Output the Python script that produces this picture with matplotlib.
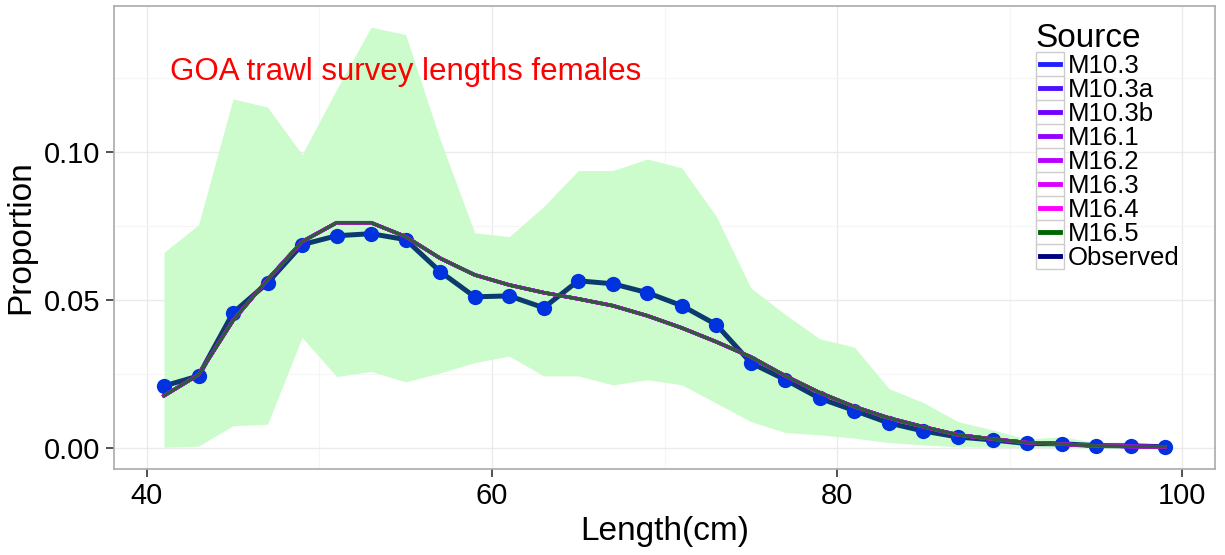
import matplotlib.pyplot as plt
from matplotlib.ticker import MultipleLocator
from matplotlib.legend_handler import HandlerLine2D
from matplotlib.patches import Rectangle
from matplotlib.lines import Line2D

plt.rcParams['font.family'] = ['Liberation Sans', 'DejaVu Sans']

# length bins (cm)
length = [41, 43, 45, 47, 49, 51, 53, 55, 57, 59, 61, 63, 65, 67, 69,
          71, 73, 75, 77, 79, 81, 83, 85, 87, 89, 91, 93, 95, 97, 99]

observed = [0.0209, 0.0243, 0.0456, 0.0557, 0.0686, 0.0716, 0.0723, 0.0703,
            0.0595, 0.0510, 0.0513, 0.0473, 0.0564, 0.0554, 0.0524, 0.0480,
            0.0416, 0.0287, 0.0230, 0.0167, 0.0126, 0.0084, 0.0057, 0.0037,
            0.0027, 0.0015, 0.0014, 0.0008, 0.0007, 0.0004]

# model fits (all sources nearly identical)
predicted = [0.0176, 0.0247, 0.0430, 0.0568, 0.0696, 0.0760, 0.0760, 0.0713,
             0.0640, 0.0584, 0.0550, 0.0524, 0.0503, 0.0480, 0.0446, 0.0405,
             0.0358, 0.0307, 0.0243, 0.0186, 0.0139, 0.0101, 0.0071, 0.0044,
             0.0030, 0.0018, 0.0013, 0.0007, 0.0005, 0.0004]

upper = [0.0660, 0.0753, 0.1178, 0.1150, 0.0990, 0.1210, 0.1420, 0.1395,
         0.1040, 0.0726, 0.0713, 0.0815, 0.0936, 0.0936, 0.0975, 0.0945,
         0.0781, 0.0540, 0.0450, 0.0368, 0.0340, 0.0200, 0.0153, 0.0089,
         0.0061, 0.0030, 0.0038, 0.0018, 0.0021, 0.0010]

lower = [0.0002, 0.0006, 0.0075, 0.0080, 0.0373, 0.0241, 0.0258, 0.0223,
         0.0253, 0.0288, 0.0310, 0.0243, 0.0243, 0.0213, 0.0230, 0.0213,
         0.0151, 0.0089, 0.0052, 0.0044, 0.0033, 0.0018, 0.0010, 0.0004,
         0.0002, 0.0001, 0.0001, 0.0000, 0.0000, 0.0000]

sources = ['M10.3', 'M10.3a', 'M10.3b', 'M16.1', 'M16.2', 'M16.3', 'M16.4', 'M16.5']
colors = ['#2020FF', '#4A10FF', '#7000FF', '#9500FF', '#B800FF', '#DC00FF', '#FF00FF', '#006400']


# ggplot-like legend key: grey bordered box with a short line
class KeyBox(HandlerLine2D):
    def create_artists(self, legend, orig, xd, yd, width, height, fontsize, trans):
        box = Rectangle((-xd, -yd - 2), width, height + 4, fc='white',
                        ec='#CCCCCC', lw=1.0, transform=trans)
        ln = Line2D([-xd + 3, -xd + width - 3], [-yd + height / 2] * 2,
                    color=orig.get_color(), lw=3.5, transform=trans)
        return [box, ln]


fig = plt.figure(figsize=(12.25, 5.55), dpi=100)
ax = fig.add_axes([0.093, 0.155, 0.899, 0.834])

ax.fill_between(length, lower, upper, color='#CCFCCC', lw=0, zorder=1)

handles = []
for s, c in zip(sources, colors):
    if s == 'M16.5':
        ax.plot(length, predicted, color='#2F5A3A', lw=2.4, zorder=4)
    else:
        ax.plot(length, predicted, color=c, lw=2.5, zorder=3)
    h, = ax.plot([], [], color=c, label=s)
    handles.append(h)

ax.plot(length, observed, color='#0B3A6E', lw=3.6, zorder=2.5)
ax.plot(length, observed, 'o', color='#0033DD', ms=11, mec='none', zorder=2.6)
h, = ax.plot([], [], color='#000080', label='Observed')
handles.append(h)

ax.text(55, 0.127, 'GOA trawl survey lengths females', color='red',
        fontsize=22.5, ha='center', va='center')

ax.set_xlim(38.1, 101.9)
ax.set_ylim(-0.0071, 0.1491)
ax.xaxis.set_minor_locator(MultipleLocator(10))
ax.yaxis.set_minor_locator(MultipleLocator(0.025))
ax.set_xticks([40, 60, 80, 100])
ax.set_xticklabels(['40', '60', '80', '100'])
ax.set_yticks([0, 0.05, 0.10])
ax.set_yticklabels(['0.00', '0.05', '0.10'])
ax.grid(which='major', color='#EBEBEB', lw=1.0, zorder=0)
ax.grid(which='minor', color='#F5F5F5', lw=0.8, zorder=0)
ax.set_axisbelow(True)
for sp in ax.spines.values():
    sp.set_color('#AAAAAA')
    sp.set_linewidth(1.2)
ax.tick_params(which='major', labelsize=21, color='#333333', length=6, width=1.2)
ax.tick_params(which='minor', length=0)

ax.set_xlabel('Length(cm)', fontsize=24, labelpad=4)
ax.set_ylabel('Proportion', fontsize=24, labelpad=6)

leg = ax.legend(handles=handles, title='Source', loc='upper right',
                bbox_to_anchor=(0.977, 0.985), frameon=False, fontsize=18.5,
                title_fontsize=24, handlelength=1.1, handleheight=0.75,
                handletextpad=0.15, labelspacing=0.0, borderaxespad=0.0,
                handler_map={Line2D: KeyBox()})
leg._legend_box.align = 'left'

fig.savefig('out.png', dpi=100)
